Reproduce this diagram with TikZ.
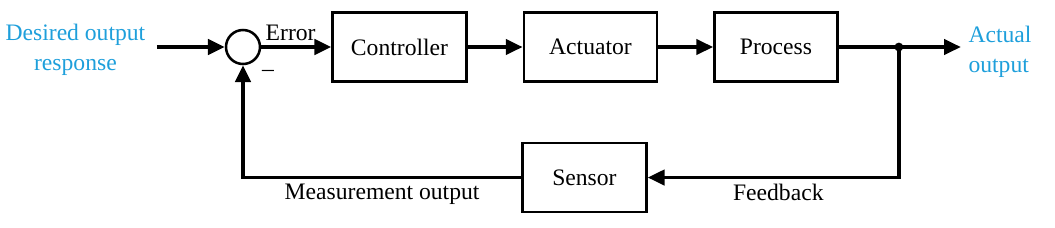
\documentclass[tikz,border=0pt]{standalone}
\usepackage{fontspec}
\setmainfont{Liberation Serif}
\usetikzlibrary{arrows.meta,positioning}
\definecolor{bleuciel}{HTML}{1E9FDB}
\tikzset{
  bloc/.style={draw,line width=1.8pt,minimum height=1.725cm,inner sep=2pt},
  fleche/.style={-{Triangle[length=4.2mm,width=3.8mm]},line width=2.6pt},
}
\begin{document}
\begin{tikzpicture}[font=\fontsize{16.8}{21.3}\selectfont, node distance=1.37cm]
  \useasboundingbox (-6.075,-4.5) rectangle (20.3,1.175);
  \node[circle,draw,line width=1.8pt,minimum size=0.85cm,inner sep=0pt] (somme) at (0,0) {};
  \node[bloc,minimum width=3.35cm,right=1.75cm of somme] (ctrl) {Controller};
  \node[bloc,minimum width=3.33cm,right=of ctrl] (act) {Actuator};
  \node[bloc,minimum width=3.08cm,right=of act] (proc) {Process};
  \node[bloc,minimum width=3.1cm,below=1.475cm of act,xshift=-0.15cm] (capt) {Sensor};
  \coordinate[right=1.5cm of proc] (branche);
  \coordinate[right=1.55cm of branche] (fin);
  \coordinate (debut) at (-2.15,0);
  \node[bleuciel,align=center,inner sep=1pt,left=0.25cm of debut,yshift=-0.08cm] (consigne) {Desired output\\response};
  \node[bleuciel,align=left,inner sep=1pt,right=0.15cm of fin,yshift=-0.13cm] (sortie) {Actual\\output};
  \draw[fleche] (debut) -- (somme);
  \draw[fleche] (somme) -- node[above,pos=0.42] {Error} (ctrl);
  \foreach \u/\v in {ctrl/act,act/proc} \draw[fleche] (\u)--(\v);
  \draw[fleche] (proc) -- (fin);
  \fill (branche) circle (0.11cm);
  \draw[fleche] (branche) |- node[below,pos=0.74] {Feedback} (capt);
  \draw[fleche] (capt) -| node[below,pos=0.25] {Measurement output} (somme);
  \node (moins) at ([shift={(0.625,-0.65)}]somme.center) {\textendash};
\end{tikzpicture}
\end{document}
